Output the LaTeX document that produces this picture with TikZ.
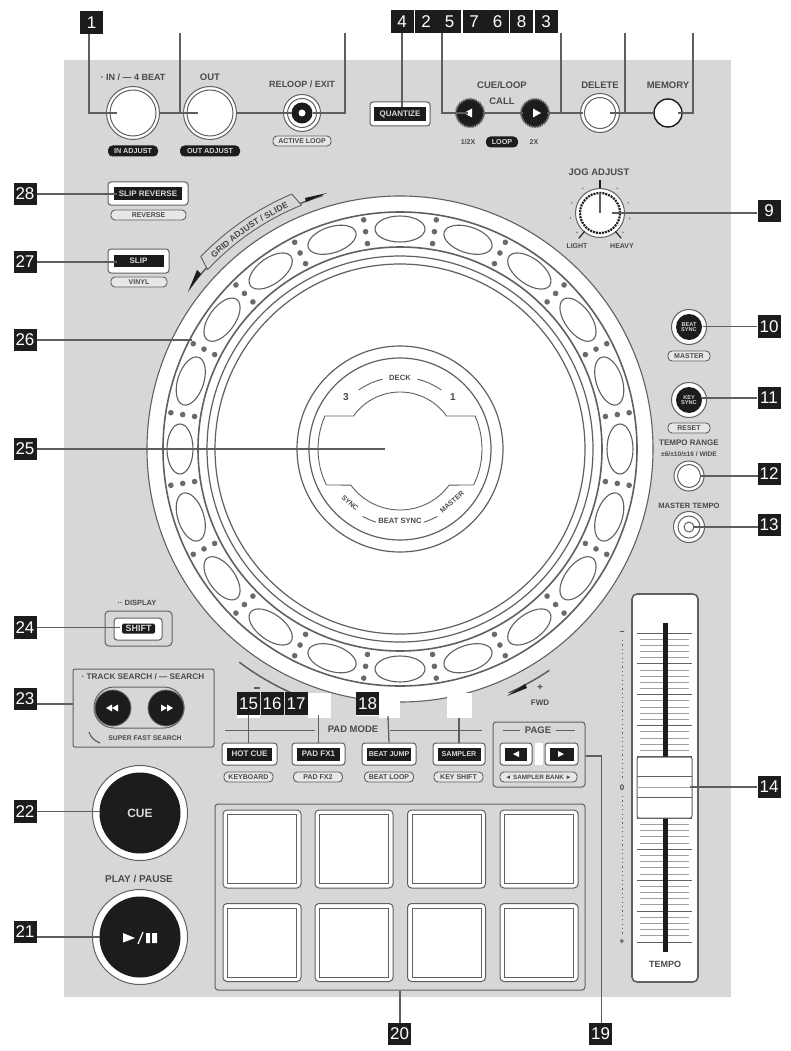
\documentclass[tikz,border=0pt]{standalone}
\usepackage{fontspec}
\setmainfont{Liberation Sans}
\usetikzlibrary{decorations.text}
\definecolor{panelgray}{HTML}{D7D7D7}
\definecolor{tagblack}{HTML}{1C1C1C}
\definecolor{leadgray}{HTML}{5E5E5E}
\definecolor{linegray}{HTML}{606060}
\definecolor{labelgray}{HTML}{4A4A4A}
\definecolor{dotgray}{HTML}{6A6A6A}
\newcommand\fsz[1]{\fontsize{#1}{#1}\selectfont}
\newcommand\fb[1]{\fontsize{#1}{#1}\selectfont\bfseries}
\tikzset{
  tag/.style={fill=tagblack,text=white,minimum width=23pt,minimum height=22.5pt,inner sep=0pt,font=\fsz{17}},
  leader/.style={draw=leadgray,line width=1.3pt},
  plabel/.style={text=labelgray,inner sep=0pt,font=\fb{9.5}},
  slabel/.style={text=labelgray,inner sep=0pt,font=\fb{7}},
  pilld/.style={fill=tagblack,text=white!85!black,rounded corners=4.5pt,minimum height=11pt,inner sep=0pt,font=\fb{7.2}},
  pillo/.style={draw=linegray,line width=.9pt,fill=panelgray!60!white,text=labelgray,rounded corners=4pt,minimum height=10pt,inner sep=0pt,font=\fb{7}},
  ring/.style={circle,draw=linegray,line width=1pt,fill=white,inner sep=0pt,outer sep=0pt},
  blackdisc/.style={circle,fill=tagblack,inner sep=0pt,outer sep=0pt},
  keyrim/.style={draw=linegray,line width=1pt,fill=white,rounded corners=3pt,inner sep=0pt},
  keycore/.style={fill=tagblack,text=white!85!black,inner sep=0pt,font=\fb{8}},
  wheel/.style={draw=linegray,line width=1.1pt},
  thinl/.style={draw=linegray,line width=.9pt},
  padouter/.style={draw=linegray,line width=1pt,fill=white,rounded corners=4pt,minimum width=78pt,minimum height=78pt,inner sep=0pt},
  padinner/.style={draw=linegray,line width=1pt,fill=white,minimum width=69pt,minimum height=69pt,inner sep=0pt},
}
\newcommand\keybtn[8]{%
  \node[keyrim,minimum width=#4pt,minimum height=#5pt] (#1r) at (#2,#3) {};
  \node[keycore,minimum width=#6pt,minimum height=#7pt] (#1) at (#2,#3) {#8};}
\begin{document}
\begin{tikzpicture}[x=1pt,y=-1pt]
\useasboundingbox (0,0) rectangle (790,1051);
\fill[white] (0,0) rectangle (790,1051);
\fill[panelgray] (64,60) rectangle (731,997);

% ---- jog wheel
\coordinate (J) at (400,449);
\node[ring,draw=linegray,line width=1.1pt,minimum size=506pt] (jog) at (J) {};
\node[ring,line width=1.6pt,minimum size=474pt] (jogA) at (J) {};
\node[ring,line width=1.6pt,minimum size=404pt] (jogB) at (J) {};
\foreach \a in {0,18,...,342}{
  \path (J)+(\a:220) coordinate (ovc);
  \draw[wheel,fill=white,shift={(ovc)},rotate=-\a] (0,0) ellipse [x radius=13pt,y radius=25pt];
}
\foreach \a in {9,27,...,351}{
  \foreach \r in {208,220,232}{
    \path (J)+(\a:\r) coordinate (dotc);
    \fill[dotgray] (dotc) circle [radius=2.8pt];
  }
}
\node[ring,line width=1.2pt,minimum size=386pt] (jogC) at (J) {};
\node[ring,line width=1.2pt,minimum size=370pt] (jogD) at (J) {};
\node[ring,line width=1.2pt,minimum size=206pt] (disc) at (J) {};
\node[ring,line width=1.2pt,minimum size=182pt] (discB) at (J) {};
\draw[thinl,line join=round]
  plot[domain=-144.6:-35.4,samples=30] ({400+57*cos(\x)},{449+57*sin(\x)})
  -- plot[domain=-23.7:26,samples=16] ({400+82*cos(\x)},{449+82*sin(\x)})
  -- plot[domain=36.3:143.7,samples=30] ({400+61*cos(\x)},{449+61*sin(\x)})
  -- plot[domain=154:203.7,samples=16] ({400+82*cos(\x)},{449+82*sin(\x)})
  -- cycle;
\node[slabel,font=\fb{7.6}] (deck) at (400,378) {DECK};
\node[text=labelgray,inner sep=0pt,font=\fb{10}] (d3) at (346,397) {3};
\node[text=labelgray,inner sep=0pt,font=\fb{10}] (d1) at (453,397) {1};
\node[slabel,rotate=-42] (dsync) at (350,503) {SYNC};
\node[slabel,font=\fb{7.6}] (dbeat) at (400,521) {BEAT SYNC};
\node[slabel,rotate=42] (dmaster) at (452,502) {MASTER};
\draw[thinl] plot[domain=-125:-104,samples=10] ({400+72*cos(\x)},{449+72*sin(\x)});
\draw[thinl] plot[domain=-76:-55,samples=10] ({400+72*cos(\x)},{449+72*sin(\x)});
\draw[thinl] plot[domain=119:108,samples=5] ({400+77*cos(\x)},{449+77*sin(\x)});
\draw[thinl] plot[domain=72:61,samples=5] ({400+77*cos(\x)},{449+77*sin(\x)});

% ---- curved grid adjust band
\draw[leadgray,line width=1.5pt] plot[domain=-142:-107,samples=30] ({400+265*cos(\x)},{449+265*sin(\x)});
\fill[tagblack] (188,292) -- (197,270) -- (201,274) -- cycle;
\fill[tagblack] (327,193) -- (305,198) -- (306,202) -- cycle;
\draw[leadgray,line width=.9pt,fill=panelgray,line join=round]
  plot[domain=-136:-113,samples=20] ({400+277*cos(\x)},{449+277*sin(\x)})
  -- plot[domain=-112:-137,samples=20] ({400+263*cos(\x)},{449+263*sin(\x)})
  -- cycle;
\path[decorate,decoration={text along path,text align=center,
   text={|\fb{8.6}\color{labelgray}|GRID ADJUST / SLIDE}}]
  plot[domain=-137:-112,samples=30] ({400+266*cos(\x)},{449+266*sin(\x)});

% ---- bottom direction arrows
\draw[leadgray,line width=1.5pt] plot[domain=127:112,samples=10] ({400+267*cos(\x)},{449+267*sin(\x)});
\draw[leadgray,line width=1.5pt] plot[domain=66:56,samples=10] ({400+267*cos(\x)},{449+267*sin(\x)});
\fill[tagblack] (507,696) -- (527,688) -- (525,684) -- cycle;
\node[slabel,font=\fb{10}] (fplus) at (540,688) {+};
\node[slabel,font=\fb{8}] (fwd) at (540,703) {FWD};
\draw[leadgray,line width=1.2pt] (254,688) -- (260,688);

% ---- white patches
\fill[white] (237,693) rectangle (260,718);
\fill[white] (308,693) rectangle (331,718);
\fill[white] (356,692) rectangle (379,716);
\fill[white] (379,698) rectangle (400,718);
\fill[white] (447,693) rectangle (472,718);

% ---- top row
\node[plabel,font=\fb{9}] (lIN) at (133,77) {· IN / — 4 BEAT};
\node[plabel] (lOUT) at (210,77) {OUT};
\node[plabel,font=\fb{9}] (lRE) at (302,84) {RELOOP / EXIT};
\node[ring,minimum size=53pt] (bIN) at (133,113) {};
\node[ring,minimum size=46pt] (bINi) at (133,113) {};
\node[ring,minimum size=53pt] (bOUT) at (210,113) {};
\node[ring,minimum size=46pt] (bOUTi) at (210,113) {};
\node[ring,minimum size=37pt] (bRE) at (302,113) {};
\node[ring,minimum size=29pt] (bREi) at (302,113) {};
\node[blackdisc,minimum size=21pt] (bREc) at (302,113) {};
\node[circle,fill=white,inner sep=0pt,minimum size=7pt] (bREw) at (302,113) {};
\node[pilld,minimum width=50pt] (pIN) at (133,151) {IN ADJUST};
\node[pilld,minimum width=60pt] (pOUT) at (210,151) {OUT ADJUST};
\node[pillo,minimum width=58pt] (pAL) at (302,141) {ACTIVE LOOP};
\keybtn{qz}{400}{114}{60}{24}{52}{14}{QUANTIZE}
\node[plabel] (lCL) at (502,85) {CUE/LOOP};
\node[plabel] (lCA) at (502,101) {CALL};
\node[circle,draw=dotgray,dash pattern=on 1.5pt off 1pt,line width=2pt,fill=tagblack,inner sep=0pt,minimum size=28pt] (bCL) at (470,113) {};
\node[circle,draw=dotgray,dash pattern=on 1.5pt off 1pt,line width=2pt,fill=tagblack,inner sep=0pt,minimum size=28pt] (bCR) at (535,113) {};
\fill[white] (464,113) -- (472,108.5) -- (472,117.5) -- cycle;
\fill[white] (541,113) -- (533,108.5) -- (533,117.5) -- cycle;
\node[slabel] (l12) at (468,142) {1/2X};
\node[pilld,minimum width=32pt] (pLP) at (502,142) {LOOP};
\node[slabel] (l2x) at (534,142) {2X};
\node[plabel] (lDE) at (600,85) {DELETE};
\node[plabel] (lME) at (668,85) {MEMORY};
\node[ring,minimum size=39pt] (bDE) at (600,113) {};
\node[ring,minimum size=31pt] (bDEi) at (600,113) {};
\node[ring,draw=tagblack,line width=1.4pt,minimum size=28pt] (bME) at (668,113) {};

% ---- left keys
\keybtn{sr}{148}{193.5}{80}{23}{68}{13}{SLIP REVERSE}
\node[pillo,minimum width=75pt] (pREV) at (148.5,215) {REVERSE};
\keybtn{sl}{138.5}{261}{61}{24}{50}{12}{SLIP}
\node[pillo,minimum width=56pt] (pVI) at (139,282) {VINYL};

% ---- jog adjust
\node[plabel] (lJA) at (599,172) {JOG ADJUST};
\foreach \a in {-220,-190,-160,-125,-55,-20,10,40}{
  \path (600,213)+(\a:30) coordinate (jt);
  \fill[dotgray!70!panelgray] (jt) circle [radius=1pt];
}
\node[ring,minimum size=49pt] (knob) at (600,213) {};
\draw[tagblack,line width=2.2pt,dash pattern=on 2pt off 1pt] (600,213) circle [radius=20pt];
\node[circle,fill=white,inner sep=0pt,minimum size=36pt] (knobw) at (600,213) {};
\draw[leadgray,line width=1.3pt] (600,193) -- (600,213);
\draw[tagblack,line width=1.4pt] (600,180) -- (600,188);
\path (600,213)+(130:24) coordinate (jla) (600,213)+(130:33) coordinate (jlb);
\path (600,213)+(50:24) coordinate (jha) (600,213)+(50:33) coordinate (jhb);
\draw[tagblack,line width=1.1pt] (jla) -- (jlb) (jha) -- (jhb);
\node[slabel] (lLI) at (577,246) {LIGHT};
\node[slabel] (lHE) at (622,246) {HEAVY};

% ---- right buttons
\node[ring,minimum size=35pt] (bBS) at (689,327) {};
\node[blackdisc,minimum size=26pt,text=white!85!black,font=\fb{5.6},align=center] (bBSc) at (689,327) {BEAT\\[-.5pt]SYNC};
\node[pillo,minimum width=42pt] (pMA) at (689,356) {MASTER};
\node[ring,minimum size=35pt] (bKS) at (689,400) {};
\node[blackdisc,minimum size=26pt,text=white!85!black,font=\fb{5.6},align=center] (bKSc) at (689,400) {KEY\\[-.5pt]SYNC};
\node[pillo,minimum width=42pt] (pRE) at (689,428) {RESET};
\node[plabel,font=\fb{8}] (lTR) at (689,443) {TEMPO RANGE};
\node[slabel,font=\fb{6.6}] (lTV) at (689,454) {±6/±10/±16 / WIDE};
\node[ring,minimum size=30pt] (bTR) at (689,476) {};
\node[ring,minimum size=23pt] (bTRi) at (689,476) {};
\node[plabel,font=\fb{7.6}] (lMT) at (689,506) {MASTER TEMPO};
\node[ring,minimum size=31pt] (bMT) at (689,527) {};
\node[ring,minimum size=22pt] (bMTi) at (689,527) {};
\node[ring,minimum size=10pt] (bMTc) at (689,527) {};

% ---- tempo fader
\draw[linegray,line width=.8pt,dash pattern=on 1.2pt off 3.2pt] (622,640) -- (622,780);
\draw[linegray,line width=.8pt,dash pattern=on 1.2pt off 3.2pt] (622,796) -- (622,936);
\node[slabel,font=\fb{9}] (fmin) at (622,633) {–};
\node[slabel,font=\fb{8}] (fzero) at (622,788) {0};
\node[slabel,font=\fb{9}] (fpls) at (622,942) {+};
\node[draw=linegray,line width=1.6pt,fill=white,rounded corners=5pt,minimum width=66pt,minimum height=388pt,inner sep=0pt] (fader) at (665,788) {};
\foreach \i in {0,...,50}{
  \pgfmathsetmacro\yy{633+6.18*\i}
  \draw[gray!75,line width=1pt] (640,\yy) -- (689,\yy);
}
\foreach \i in {0,5,...,50}{
  \pgfmathsetmacro\yy{633+6.18*\i}
  \draw[linegray,line width=1pt] (637,\yy) -- (692,\yy);
}
\fill[tagblack] (662.7,623) rectangle (667.7,952);
\node[draw=linegray,line width=1pt,fill=white,rounded corners=2pt,minimum width=55pt,minimum height=61pt,inner sep=0pt] (fknob) at (664.5,787.5) {};
\draw[linegray,line width=1pt] (637,776.5) -- (692,776.5);
\draw[gray!70,line width=1.3pt] (637,787.5) -- (692,787.5);
\draw[linegray,line width=1pt] (637,797.5) -- (692,797.5);
\node[plabel,font=\fb{9}] (lTE) at (665,964) {TEMPO};

% ---- shift + search
\node[plabel,font=\fb{7.5}] (lDI) at (137,603) {·· DISPLAY};
\node[draw=linegray,line width=1pt,rounded corners=4pt,minimum width=67pt,minimum height=35pt,inner sep=0pt] (shO) at (138.5,628.5) {};
\node[draw=linegray,line width=1pt,fill=white,rounded corners=3pt,minimum width=48pt,minimum height=22pt,inner sep=0pt] (shR) at (138,629) {};
\node[keycore,font=\fb{9},minimum width=33pt,minimum height=10pt,rounded corners=1.5pt] (sh) at (138.5,628.5) {SHIFT};
\node[draw=linegray,line width=1pt,rounded corners=2pt,minimum width=141pt,minimum height=78pt,inner sep=0pt] (tsb) at (143.5,708) {};
\node[plabel,font=\fb{8.2}] (lTS) at (143,677) {· TRACK SEARCH / — SEARCH};
\node[draw=linegray,line width=1pt,rounded corners=20pt,minimum width=90pt,minimum height=41pt,inner sep=0pt] (tso) at (139,707.5) {};
\node[blackdisc,minimum size=36pt,draw=dotgray,line width=.8pt] (sL) at (113,708) {};
\node[blackdisc,minimum size=36pt,draw=dotgray,line width=.8pt] (sR) at (166,708) {};
\fill[white] (106,708) -- (112,704.5) -- (112,711.5) -- cycle (112,708) -- (118,704.5) -- (118,711.5) -- cycle;
\fill[white] (173,708) -- (167,704.5) -- (167,711.5) -- cycle (167,708) -- (161,704.5) -- (161,711.5) -- cycle;
\draw[leadgray,line width=1.2pt] (89,732) .. controls (91,738) and (95,741) .. (100,743);
\node[slabel,font=\fb{6.8}] (lSF) at (145,738) {SUPER FAST SEARCH};

% ---- cue / play
\node[ring,minimum size=95pt] (bCU) at (140,813) {};
\node[blackdisc,minimum size=81pt,text=white!85!black,font=\fb{12}] (bCUc) at (140,813) {CUE};
\node[plabel,font=\fb{10}] (lPP) at (139,879) {PLAY / PAUSE};
\node[ring,minimum size=95pt] (bPL) at (140,937) {};
\node[blackdisc,minimum size=81pt] (bPLc) at (140,937) {};
\fill[white] (123,933) -- (123,942.5) -- (135,938) -- cycle;
\draw[white,line width=1.2pt] (138,944) -- (143,932);
\fill[white] (146,933) rectangle (150,943) (152,933) rectangle (157,943);

% ---- pad mode
\node[plabel] (lPM) at (353,729) {PAD MODE};
\draw[thinl] (225,730) -- (315,730) (390,730) -- (482,730);
\keybtn{hc}{249.5}{754}{55}{22}{45}{13}{HOT CUE}
\keybtn{pf}{318.5}{754}{53}{22}{43}{13}{PAD FX1}
\keybtn{bj}{389}{754}{54}{22}{44}{13}{\fb{7.1}BEAT JUMP}
\keybtn{sp}{459}{754}{52}{22}{43}{13}{\fb{7.1}SAMPLER}
\node[pillo,minimum width=49pt] (pKB) at (248.5,777) {KEYBOARD};
\node[pillo,minimum width=49pt] (pPF) at (318,777) {PAD FX2};
\node[pillo,minimum width=49pt] (pBL) at (389,777) {BEAT LOOP};
\node[pillo,minimum width=49pt] (pKS) at (458.5,777) {KEY SHIFT};
\node[draw=linegray,line width=1pt,rounded corners=3pt,minimum width=92pt,minimum height=65pt,inner sep=0pt] (pgb) at (539,754.5) {};
\node[plabel] (lPG) at (538,730) {PAGE};
\draw[thinl] (503,730) -- (520,730) (556,730) -- (575,730);
\keybtn{pgL}{516}{754}{32}{22}{22}{13}{}
\keybtn{pgR}{561.5}{754}{33}{22}{24}{13}{}
\fill[white] (535,743) rectangle (543,765);
\fill[white] (513,754) -- (519,751) -- (519,757) -- cycle;
\fill[white] (564,754) -- (558,751) -- (558,757) -- cycle;
\node[pillo,minimum width=77pt,font=\fb{6.3}] (pSB) at (538.5,777) {◄ SAMPLER BANK ►};

% ---- pads
\node[draw=linegray,line width=1pt,rounded corners=3pt,minimum width=370pt,minimum height=186pt,inner sep=0pt] (padbox) at (400,897) {};
\foreach \px/\n in {262/a,354/b,446.5/c,539/d}{
  \foreach \py/\m in {849/u,942.5/v}{
    \node[padouter] (pd\n\m) at (\px,\py) {};
    \node[padinner] (pi\n\m) at (\px,\py) {};
  }
}

% ---- tags
\node[tag] (t1) at (91.5,22.5) {1};
\foreach \lab/\xx in {4/402,2/426,5/449.5,7/474,6/497.5,8/521.5,3/546}{
  \node[tag] (t\lab) at (\xx,21.5) {\lab};
}
\foreach \lab/\yy in {28/194,27/262,26/340,25/449,24/627.5,23/699,22/811.5,21/932}{
  \node[tag] (t\lab) at (25,\yy) {\lab};
}
\foreach \lab/\yy in {9/211,10/326.5,11/398,12/474,13/525,14/787}{
  \node[tag] (t\lab) at (769,\yy) {\lab};
}
\foreach \lab/\xx in {15/248.5,16/272,17/296,18/367.5}{
  \node[tag] (t\lab) at (\xx,703.5) {\lab};
}
\node[tag] (t20) at (399.5,1034) {20};
\node[tag] (t19) at (600.5,1034) {19};

% ---- connector ends
\coordinate (topA) at (180,33);
\coordinate (topB) at (345,33);
\coordinate (topC) at (561,33);
\coordinate (topD) at (625,33);
\coordinate (topE) at (693,33);
\coordinate (e1) at (117,113);
\coordinate (k1) at (89,113);
\coordinate (k2) at (180,113);
\coordinate (e2a) at (160,113);
\coordinate (e2b) at (198,113);
\coordinate (k3) at (345,113);
\coordinate (e3) at (313,113);
\coordinate (e3b) at (237,113);
\coordinate (k5) at (442,113);
\coordinate (e5) at (468,113);
\coordinate (m5a) at (483,113);
\coordinate (m5b) at (523,113);
\coordinate (k6) at (561,113);
\coordinate (e6) at (547,113);
\coordinate (e6b) at (583,113);
\coordinate (k7) at (625,113);
\coordinate (e7) at (610,113);
\coordinate (e7b) at (653,113);
\coordinate (k8) at (693,113);
\coordinate (e8) at (678,113);
\coordinate (k19) at (601.5,756);
\coordinate (e23) at (37,704);
\coordinate (f23) at (73,704);

% ---- connectors
\draw[leader] (k1 |- t1.south) -- (k1) -- (e1);
\draw[leader] (topA) -- (k2);
\draw[leader] (e2a) -- (e2b);
\draw[leader] (topB) -- (k3) -- (e3);
\draw[leader] (bREc.west) -- (e3b);
\draw[leader] (t4.south) -- (qz.north -| t4.south);
\draw[leader] (k5 |- t5.south) -- (k5) -- (e5);
\draw[leader] (m5a) -- (m5b);
\draw[leader] (topC) -- (k6) -- (e6);
\draw[leader] (k6) -- (e6b);
\draw[leader] (topD) -- (k7) -- (e7);
\draw[leader] (k7) -- (e7b);
\draw[leader] (topE) -- (k8) -- (e8);
\draw[leader] (t28.east) -- (117,194);
\draw[leader] (t27.east) -- (117,262);
\draw[leader] (t26.east) -- (192,340);
\draw[leader] (t25.east) -- (385,449);
\draw[leader] (t24.east) -- (120,627.5);
\draw[leader] (e23) -- (f23);
\draw[leader] (t22.east) -- (100,811.5);
\draw[leader] (t21.east |- bPL.west) -- (100,937);
\draw[leader] (t9.west |- knob.east) -- (612,213);
\draw[leader] (t10.west) -- (703,326.5);
\draw[leader] (t11.west) -- (702,398);
\draw[leader] (757.5,476) -- (700,476);
\draw[leader] (757.5,527) -- (693,527);
\draw[leader] (t14.west) -- (690,787);
\draw[leader] (t15.south) -- (hcr.north -| t15.south);
\draw[leader] (pfr.north) -- (pfr.north |- t17.south);
\draw[leader] (bjr.north) -- (388,716);
\draw[leader] (spr.north) -- (459,718);
\draw[leader] (pgb.east |- k19) -- (k19) -- (t19.north -| k19);
\draw[leader] (t20.north -| padbox.south) -- (padbox.south);
\end{tikzpicture}
\end{document}
